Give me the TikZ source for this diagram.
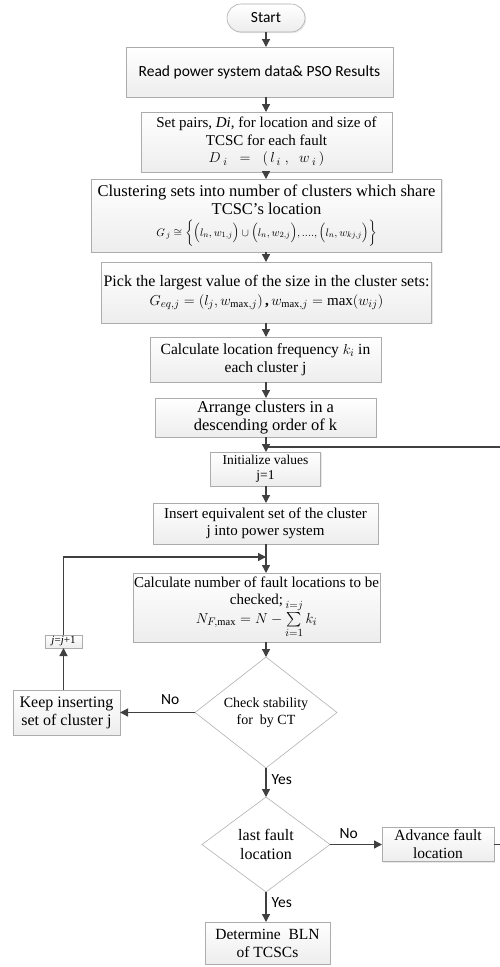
\documentclass[tikz,border=0pt]{standalone}
\usepackage{amsmath}
\usepackage{fontspec}
\setmainfont{Liberation Serif}
\newfontfamily\calibri{Carlito}
\usetikzlibrary{positioning,calc,shapes.geometric,arrows.meta,shadows}

\begin{document}
\begin{tikzpicture}[x=1pt,y=-1pt,
        procnode/.style={rectangle, draw=gray!65, line width=0.6pt, top color=white, bottom color=gray!14, drop shadow={shadow xshift=1.2pt, shadow yshift=-1.2pt, fill=gray!35}, align=center, inner sep=1pt, outer sep=0pt, font=\fontsize{15}{17.5}\selectfont},
        sansnode/.style={procnode, font=\calibri\fontsize{15.5}{18}\selectfont},
        termnode/.style={sansnode, rounded corners=14pt},
        decisionnode/.style={diamond, draw=gray!60, line width=0.6pt, fill=white, align=center, inner sep=0pt, outer sep=0pt, font=\fontsize{15}{17.5}\selectfont},
        labelnode/.style={font=\calibri\fontsize{15.5}{18}\selectfont, inner sep=2pt},
        flow/.style={draw=black!75, line width=1.3pt},
        arr/.style={flow, -{Triangle[width=8pt,length=8pt]}},
        ]
        \useasboundingbox (0,0) rectangle (500,967);
        %Nodes
        \node[termnode, minimum width=78pt, minimum height=28pt] (start) at (266,18) {Start};
        \node[sansnode, minimum width=267pt, minimum height=50pt] [below=15pt of start, xshift=-6.5pt] (read) {Read power system data\& PSO Results};
        \node[procnode, minimum width=251pt, minimum height=60pt] [below=15pt of read, xshift=7pt] (pairs) {Set pairs, \textit{Di}, for location and size of\\ TCSC for each fault\\ $D_{\;i}\;\;=\;\;\left(\,l_{\,i}\;,\;\;w_{\;i}\,\right)$};
        \node[procnode, minimum width=350pt, minimum height=73pt, font=\fontsize{16.5}{18}\selectfont] [below=7pt of pairs] (cluster) {Clustering sets into number of clusters which share\\ TCSC’s location\\[4pt] {\fontsize{11}{13}\selectfont $G_{\,j}\cong\biggl\{\Bigl(l_{n},w_{1,j}\Bigr)\cup\Bigl(l_{n},w_{2,j}\Bigr),....,\Bigl(l_{n},w_{kj,j}\Bigr)\biggr\}$}};
        \node[procnode, minimum width=330pt, minimum height=61pt, font=\fontsize{16}{19}\selectfont] [below=10pt of cluster] (pick) {Pick the largest value of the size in the cluster sets:\\ {\fontsize{15}{17}\selectfont$G_{eq,j}=\left(l_{j},w_{\mathrm{max},j}\right)\textbf{,}\,w_{\mathrm{max},j}=\max(w_{ij})$}};
        \node[procnode, minimum width=231pt, minimum height=45pt, font=\fontsize{15.5}{18}\selectfont] [below=14pt of pick, xshift=-1pt] (freq) {Calculate location frequency $k_i$ in\\ each cluster j};
        \node[procnode, minimum width=221pt, minimum height=39pt, font=\fontsize{16.5}{18}\selectfont] [below=16pt of freq] (arrange) {Arrange clusters in a\\ descending order of k};
        \node[procnode, minimum width=110pt, minimum height=34pt, font=\fontsize{13.5}{15}\selectfont] [below=15pt of arrange] (init) {Initialize values\\ j=1};
        \node[procnode, minimum width=225pt, minimum height=41pt] [below=17pt of init] (insert) {Insert equivalent set of the cluster\\ j into power system};
        \node[procnode, minimum width=243pt, minimum height=69pt] [below=29pt of insert, xshift=-9pt] (fcount) {Calculate number of fault locations to be\\ checked;\\[-8pt] $N_{F,\mathrm{max}}=N-\sum\limits_{i=1}^{i=j}k_i$};
        \node[decisionnode, minimum width=142pt, minimum height=111pt, aspect=1.28, font=\fontsize{14}{17}\selectfont] [below=15pt of fcount, xshift=9.5pt] (stable) {Check stability\\ for\ \ by CT};
        \node[decisionnode, minimum width=128pt, minimum height=95pt, aspect=1.35, font=\fontsize{16}{19}\selectfont] [below=29pt of stable] (last) {last fault\\ location};
        \node[procnode, minimum width=125pt, minimum height=42pt, font=\fontsize{15.5}{18}\selectfont] [below=30pt of last, xshift=1.5pt] (bln) {Determine\ \ BLN\\ of TCSCs};
        \node[procnode, minimum width=107pt, minimum height=45pt, font=\fontsize{16}{18}\selectfont] [left=75pt of stable] (keep) {Keep inserting\\ set of cluster j};
        \node[procnode, minimum width=37pt, minimum height=13pt, inner sep=1pt, font=\fontsize{11}{13}\selectfont] [above=42pt of keep, xshift=-3pt] (next) {\textit{j}=\textit{j}+1};
        \node[procnode, minimum width=112pt, minimum height=34pt, font=\fontsize{15.5}{18}\selectfont] [right=52pt of last] (advance) {Advance fault\\ location};

        \coordinate (merge) at ($(start |- insert.south)+(0,13)$);
        \coordinate (split) at ($(start |- arrange.south)+(0,10)$);
        \coordinate (rturn) at ($(advance.east)+(16,0)$);

        %Lines
        \draw [arr] (start) -- (start |- read.north);
        \draw [arr] (start |- read.south) -- (start |- pairs.north);
        \draw [arr] (start |- pairs.south) -- (start |- cluster.north);
        \draw [arr] (start |- cluster.south) -- (start |- pick.north);
        \draw [arr] (start |- pick.south) -- (start |- freq.north);
        \draw [arr] (start |- freq.south) -- (start |- arrange.north);
        \draw [arr] (start |- arrange.south) -- (start |- init.north);
        \draw [arr] (start |- init.south) -- (start |- insert.north);
        \draw [arr] (start |- insert.south) -- (start |- fcount.north);
        \draw [arr] (start |- fcount.south) -- (stable);
        \draw [arr] (stable) -- node[labelnode, right=3pt, pos=0.4] {Yes} (last);
        \draw [arr] (last) -- node[labelnode, right=3pt, pos=0.35] {Yes} (last |- bln.north);
        \draw [arr] (stable) -- node[labelnode, above=5pt, pos=0.33] {No} (keep);
        \draw [arr] (keep.north -| next) -- (next);
        \draw [arr] (next) |- (merge);
        \draw [arr] (last) -- node[labelnode, above=3pt, pos=0.36] {No} (advance);
        \draw [flow] (advance) -- (rturn) |- (split);
    \end{tikzpicture}
\end{document}
